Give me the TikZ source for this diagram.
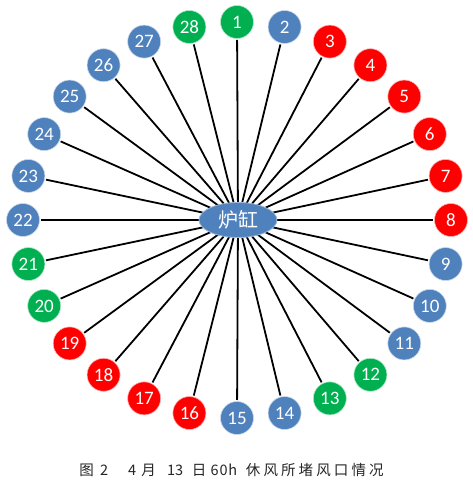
\documentclass[tikz,border=0pt]{standalone}
\usepackage{fontspec}
\newfontfamily\numfont{Carlito}
\newfontfamily\cjk{Noto Sans CJK SC}
\definecolor{oblue}{HTML}{4F81BD}
\definecolor{ored}{HTML}{FF0000}
\definecolor{ogreen}{HTML}{00B050}
\definecolor{rimblue}{HTML}{9DB9DC}
\pgfdeclarelayer{bg}
\pgfsetlayers{bg,main}
\newcommand\capbox[2]{\makebox[#1pt][c]{#2}}
\newcommand\capgap[1]{\hspace*{#1pt}}
\tikzset{
  port/.style={circle, minimum size=33pt, inner sep=0pt, outer sep=1.5pt, draw=white!70!#1, line width=0.6pt, fill=#1, text=white, font=\numfont\fontsize{19}{19}\selectfont},
  hearth/.style={ellipse, minimum width=78pt, minimum height=35pt, inner sep=0pt, fill=oblue, draw=rimblue, line width=0.8pt, text=white, font=\cjk\fontsize{20}{20}\selectfont},
  spoke/.style={line width=1.8pt, black},
  caption/.style={font=\cjk\fontsize{14.5}{15}\selectfont, inner sep=0pt, anchor=west, text=black!85},
}
\usetikzlibrary{shapes.geometric}
\begin{document}
\begin{tikzpicture}[x=1pt,y=1pt]
\useasboundingbox (0,0) rectangle (473,485);
\node[hearth] (c) at (238,265) {炉缸};
\foreach \k/\col in {1/ogreen,2/oblue,3/ored,4/ored,5/ored,6/ored,7/ored,8/ored,9/oblue,10/oblue,11/oblue,12/ogreen,13/ogreen,14/oblue,15/oblue,16/ored,17/ored,18/ored,19/ored,20/ogreen,21/ogreen,22/oblue,23/oblue,24/oblue,25/oblue,26/oblue,27/oblue,28/ogreen}{
  \pgfmathsetmacro{\ang}{90-(\k-1)*360/28}
  \node[port=\col] (n\k) at ({237+214*cos(\ang)},{265+198*sin(\ang)}) {\k};
  \begin{pgfonlayer}{bg}
    \draw[spoke] (c.center) -- (n\k);
  \end{pgfonlayer}
}
\node[caption] (cap) at (78,15) {\capbox{17}{图}\capgap{4.5}\capbox{9}{2}\capgap{19}\capbox{9}{4}\capgap{3.5}\capbox{17}{月}\capgap{10}\capbox{8}{1}\capbox{8}{3}\capgap{7.5}\capbox{17}{日}\capgap{2.5}\capbox{9}{6}\capbox{9}{0}\capbox{9}{h}\capgap{7.2}\capbox{17.6}{休}\capbox{17.6}{风}\capbox{17.6}{所}\capbox{17.6}{堵}\capbox{17.6}{风}\capbox{17.6}{口}\capbox{17.6}{情}\capbox{17.6}{况}};
\end{tikzpicture}
\end{document}
